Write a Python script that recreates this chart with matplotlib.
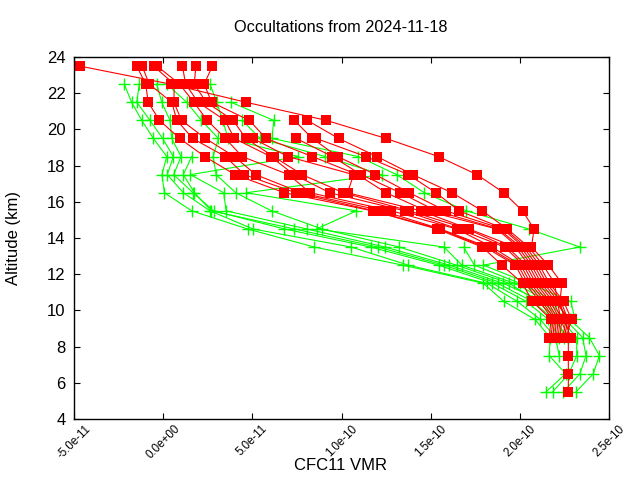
import numpy as np
import matplotlib
matplotlib.use("Agg")
import matplotlib.pyplot as plt

nan = np.nan
scale = 1e-11  # all values below are in units of 1e-11

altitude = [23.5, 22.5, 21.5, 20.5, 19.5, 18.5, 17.5, 16.5, 15.5, 14.5,
            13.5, 12.5, 11.5, 10.5, 9.5, 8.5, 7.5, 6.5, 5.5]

# red profiles (one row per altitude level, one column per profile)
red_levels = [
    [-1.48, -1.18, -0.54, -0.34, 1.08, 1.84, nan, 2.76, nan, nan, nan, nan, -4.68],
    [-0.98, -0.78, 0.62, 0.92, 1.26, 1.74, nan, 2.30, nan, nan, nan, nan, 0.42],
    [-0.84, 0.48, 0.60, 1.72, 1.96, 2.42, nan, 2.72, nan, nan, nan, nan, 4.64],
    [-0.21, 0.77, 1.03, 2.47, 3.47, 3.93, nan, 4.83, nan, 7.36, nan, 8.08, 9.14],
    [0.93, 1.65, 2.37, 3.49, 3.99, 4.63, 5.03, 5.77, 7.46, 8.36, 8.58, 9.84, 12.5],
    [2.33, 3.49, 3.99, 4.43, 6.03, 6.19, 7.00, 8.37, 9.49, 9.79, 11.37, 11.99, 15.44],
    [4.03, 4.55, 5.19, 7.04, 7.34, 7.80, 10.68, 10.90, 11.10, 11.90, 13.75, 14.0, 17.6],
    [6.80, 7.44, 7.74, 8.24, 9.34, 10.1, 10.34, 12.5, 13.3, 13.8, 15.3, 16.2, 19.1],
    [11.74, 11.84, 12.3, 12.8, 13.54, 13.8, 14.45, 14.75, 15.3, 15.85, 16.6, 17.9, 20.15],
    [15.35, 15.45, 15.55, 16.45, 16.55, 17.05, 17.15, 18.7, 18.8, 19.05, 19.15, 19.3, 20.8],
    [17.9, 18.05, 18.2, 18.45, 19.15, 19.3, 19.75, 19.9, 20.05, 20.2, 20.35, 20.5, 20.65],
    [19.0, 19.75, 19.9, 20.05, 20.2, 20.35, 20.5, 20.65, 20.8, 20.95, 21.1, 21.3, 21.6],
    [20.15, 20.3, 20.45, 20.6, 20.75, 20.9, 21.05, 21.2, 21.35, 21.5, 21.65, 21.95, 22.36],
    [20.7, 21.1, 21.25, 21.4, 21.55, 21.7, 21.85, 22.0, 22.15, 22.3, 22.45, 22.1, 22.25],
    [21.75, 21.85, 21.95, 22.05, 22.15, 22.25, 22.35, 22.75, 22.6, 22.7, 22.9, 22.3, 22.5],
    [21.65, 21.75, 21.85, 21.95, 22.05, 22.15, 22.25, 22.72, 22.4, 22.5, 22.6, 22.7, 22.85],
    [nan, nan, nan, nan, nan, nan, nan, 22.72, nan, nan, nan, nan, nan],
    [nan, nan, nan, nan, nan, nan, nan, 22.72, nan, nan, nan, nan, nan],
    [nan, nan, nan, nan, nan, nan, nan, 22.72, nan, nan, nan, nan, nan],
]

# green profiles
green_levels = [
    [-2.18, -1.34, -0.36, 0.20, nan, 2.63, nan, nan, nan],
    [-1.77, -1.48, -0.08, 1.32, nan, 3.00, nan, nan, 3.80],
    [-1.20, -0.74, 0.38, 2.14, nan, 3.34, 4.44, nan, 6.20],
    [-0.55, -0.03, 0.48, 3.10, nan, 3.64, 5.43, nan, 6.10],
    [0.20, 0.57, 1.00, 2.80, 1.60, 7.58, 9.08, nan, 10.94],
    [-0.07, 0.23, 0.59, 2.97, 1.13, 1.53, 12.25, nan, 13.10],
    [0.07, 1.13, 1.67, 4.07, 1.75, 3.39, 4.65, nan, 14.65],
    [1.60, 2.63, 2.83, 6.08, 2.70, 3.53, 10.84, nan, 17.00],
    [4.73, 5.03, 6.80, 8.90, 7.35, 8.05, 8.60, nan, 20.50],
    [8.48, 10.54, 11.64, 13.24, 12.04, 12.44, 15.75, 16.85, 23.36],
    [13.44, 13.74, 15.45, 16.45, 15.75, 16.05, 16.75, 17.45, 17.95],
    [17.95, 18.15, 18.45, 19.40, 18.75, 19.05, 19.70, 20.00, 20.50],
    [19.10, 19.85, 20.35, 21.00, 20.70, 21.30, 21.60, 22.00, 22.85],
    [20.85, 21.15, 21.60, 22.10, 21.90, 22.30, 22.55, 22.80, 23.10],
    [21.70, 22.00, 22.20, 22.50, 22.72, 23.19, 23.52, 23.90, nan],
    [21.65, 22.21, nan, nan, nan, 23.19, 23.71, 24.46, nan],
    [22.57, nan, nan, nan, nan, 22.75, 23.37, 24.12, nan],
    [21.47, nan, nan, nan, nan, 21.84, 22.44, 23.15, nan],
]
green_altitude = altitude[1:]

xtick_values = [-5e-11, 0.0, 5e-11, 1e-10, 1.5e-10, 2e-10, 2.5e-10]


def draw_profiles(ax, alts, levels, **style):
    data = np.array(levels, dtype=float) * scale
    alts = np.array(alts)
    for j in range(data.shape[1]):
        col = data[:, j]
        ok = ~np.isnan(col)
        ax.plot(col[ok], alts[ok], **style)


def main():
    plt.rcParams['font.family'] = ['Liberation Sans', 'DejaVu Sans']
    fig = plt.figure(figsize=(6.4, 4.8), dpi=100)
    ax = fig.add_axes([74 / 640, 61 / 480, 535 / 640, 362 / 480])

    draw_profiles(ax, green_altitude, green_levels, color='#00ff00', lw=0.8,
                  marker='+', ms=8, mew=1.0)
    draw_profiles(ax, altitude, red_levels, color='#ff0000', lw=0.8,
                  marker='s', ms=6.8, mew=0)

    ax.set_xlim(-5e-11, 2.5e-10)
    ax.set_ylim(4, 24)
    ax.set_yticks(range(4, 25, 2))
    ax.set_xticks(xtick_values)
    ax.set_xticklabels(['%.1e' % v for v in xtick_values], rotation=45,
                       ha='center', va='top', fontsize=8.3)
    ax.tick_params(axis='both', direction='in', top=True, right=True,
                   length=4, width=0.8)
    ax.tick_params(axis='y', labelsize=12, pad=6)
    ax.tick_params(axis='x', pad=3)
    for s in ax.spines.values():
        s.set_linewidth(1.0)

    fig.text(341 / 640, 1 - 27 / 480, 'Occultations from 2024-11-18',
             ha='center', va='center', fontsize=11.7)
    fig.text(340 / 640, 1 - 465 / 480, 'CFC11 VMR', ha='center', va='center',
             fontsize=12)
    fig.text(14 / 640, 1 - 238 / 480, 'Altitude (km)', ha='center',
             va='center', rotation=90, fontsize=12)

    fig.savefig('out.png', dpi=100)


if __name__ == '__main__':
    main()
